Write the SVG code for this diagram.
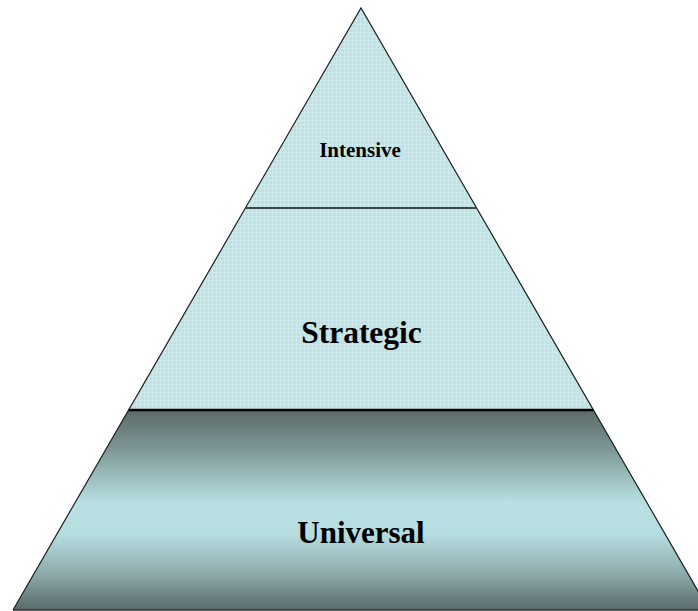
<svg xmlns="http://www.w3.org/2000/svg" width="698" height="611" viewBox="0 0 698 611">
<defs>
<pattern id="tex" width="4" height="4" patternUnits="userSpaceOnUse">
<rect width="4" height="4" fill="#bfe1e4"/>
<rect x="0" y="0" width="4" height="1" fill="#cde9eb"/>
<rect x="0" y="0" width="1" height="4" fill="#cde9eb"/>
</pattern>
<linearGradient id="band" x1="0" y1="0" x2="0" y2="1">
<stop offset="0" stop-color="#5a6a69"/>
<stop offset="0.2" stop-color="#7e9897"/>
<stop offset="0.46" stop-color="#b8dfe2"/>
<stop offset="0.62" stop-color="#b6dde0"/>
<stop offset="0.82" stop-color="#8eaaab"/>
<stop offset="1" stop-color="#5a6a6a"/>
</linearGradient>
<style>
.lbl{font-family:"Liberation Serif","Times New Roman",serif;font-weight:bold;fill:#000;text-anchor:middle}
.edge{fill:none;stroke:#1a1f1f;stroke-width:1.2}
</style>
</defs>
<g id="intensive">
<polygon points="361,8 476.6,208 245.4,208" fill="url(#tex)"/>
<text class="lbl" x="360" y="157" font-size="21">Intensive</text>
</g>
<g id="strategic">
<polygon points="245.4,208 476.6,208 593.4,410 128.6,410" fill="url(#tex)"/>
<text class="lbl" x="361.5" y="343" font-size="31.5">Strategic</text>
</g>
<g id="universal">
<polygon points="128.6,410 593.4,410 709,610 13,610" fill="url(#band)"/>
<text class="lbl" x="361" y="543" font-size="31">Universal</text>
</g>
<g id="connectors">
<polyline class="edge" points="13,610 361,8 709,610"/>
<line x1="13" y1="610" x2="698" y2="610" stroke="#2a3232" stroke-width="1.5"/>
<line x1="245.4" y1="208" x2="476.6" y2="208" stroke="#3c4747" stroke-width="2"/>
<line x1="128.6" y1="410" x2="593.4" y2="410" stroke="#000" stroke-width="2.5"/>
</g>
</svg>
